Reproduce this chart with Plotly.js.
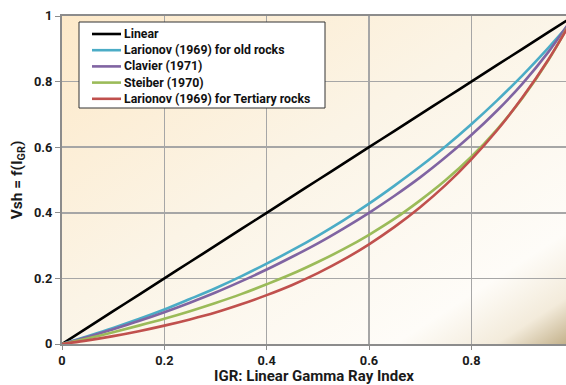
<!DOCTYPE html>
<html>
<head>
<meta charset="utf-8">
<script src="https://cdn.plot.ly/plotly-3.0.1.min.js"></script>
<style>html,body{margin:0;padding:0;background:#fff;}#chart{width:566px;height:385px;}</style>
</head>
<body>
<div id="chart"></div>
<script>
// IGR values (x)
const igr = [0,0.05,0.1,0.15,0.2,0.25,0.3,0.35,0.4,0.45,0.5,0.55,0.6,0.65,0.7,0.75,0.8,0.85,0.9,0.95,1.0];
// Vsh values
const linear     = [0,0.05,0.1,0.15,0.2,0.25,0.3,0.35,0.4,0.45,0.5,0.55,0.6,0.65,0.7,0.75,0.8,0.85,0.9,0.95,1.0];
const larOld     = [0,0.024,0.049,0.076,0.105,0.137,0.170,0.206,0.245,0.286,0.330,0.377,0.428,0.483,0.541,0.603,0.670,0.742,0.819,0.902,0.990];
const clavier    = [0,0.021,0.045,0.070,0.097,0.126,0.157,0.191,0.227,0.266,0.307,0.352,0.400,0.452,0.508,0.570,0.637,0.711,0.794,0.889,1.000];
const steiber    = [0,0.017,0.036,0.056,0.077,0.100,0.125,0.152,0.182,0.214,0.250,0.289,0.333,0.382,0.438,0.500,0.571,0.654,0.750,0.864,1.000];
const larTert    = [0,0.011,0.024,0.039,0.056,0.075,0.096,0.121,0.149,0.180,0.216,0.257,0.304,0.357,0.417,0.485,0.563,0.651,0.752,0.866,0.996];
const names  = ["Linear","Larionov (1969) for old rocks","Clavier (1971)","Steiber (1970)","Larionov (1969) for Tertiary rocks"];
const series = [linear, larOld, clavier, steiber, larTert];
const colors = ["#000000","#4bacc6","#8064a2","#9bbb59","#c0504d"];
const xTicks = [0,0.2,0.4,0.6,0.8];
const yTicks = [0,0.2,0.4,0.6,0.8,1];

const FONT = "Roboto, 'Liberation Sans', Arial, sans-serif";
const traces = series.map((s,i)=>({
  x: igr, y: s, type:'scatter', mode:'lines', name: names[i], showlegend:false,
  line:{color:colors[i], width:2.6, shape:'spline'}
}));

const svg = `<svg xmlns='http://www.w3.org/2000/svg' width='504' height='328' preserveAspectRatio='none'>
<defs><linearGradient id='g' x1='0' y1='0' x2='1' y2='1'>
<stop offset='0' stop-color='#fde9c9'/>
<stop offset='0.45' stop-color='#fbf4e6'/>
<stop offset='0.83' stop-color='#fefcf8'/>
<stop offset='0.93' stop-color='#f3ebdb'/>
<stop offset='1' stop-color='#c4b28c'/>
</linearGradient></defs>
<rect width='504' height='328' fill='url(#g)'/></svg>`;
const bg = 'data:image/svg+xml;charset=utf-8,' + encodeURIComponent(svg);

// manual legend (paper coordinates of the plot area: 504 x 328 px)
const PW = 504, PH = 328;
const px = v => v / PW, py = v => 1 - v / PH;   // pixel offsets inside plot area
const shapes = [{type:'rect', xref:'paper', yref:'paper',
  x0:px(17), x1:px(263), y0:py(92), y1:py(6),
  fillcolor:'#ffffff', line:{color:'#333333', width:1}, layer:'above'}];
const annotations = [];
names.forEach((n,i)=>{
  const yy = py(18 + i*16.2);
  shapes.push({type:'line', xref:'paper', yref:'paper', x0:px(30), x1:px(59), y0:yy, y1:yy,
    line:{color:colors[i], width:2.6}, layer:'above'});
  annotations.push({xref:'paper', yref:'paper', x:px(60), y:yy, xanchor:'left', yanchor:'middle',
    text:n, showarrow:false, font:{family:FONT, size:12.3, weight:'bold', color:'#111'}});
});

const layout = {
  width:566, height:385,
  margin:{l:62, r:0, t:16, b:41},
  paper_bgcolor:'#ffffff',
  plot_bgcolor:'rgba(0,0,0,0)',
  font:{family:FONT, size:11, color:'#1a1a1a'},
  showlegend:false,
  xaxis:{
    range:[0,0.985], tickvals:xTicks, ticktext:xTicks.map(v=>String(v)),
    showgrid:true, gridcolor:'#a6a6a6', gridwidth:1.5,
    showline:true, linecolor:'#8c8c8c', linewidth:2, mirror:true,
    ticks:'outside', ticklen:4, tickcolor:'#8c8c8c',
    tickfont:{family:FONT, size:12.8, weight:'bold', color:'#1a1a1a'},
    zeroline:false,
    title:{text:'IGR: Linear Gamma Ray Index', font:{family:FONT, size:15, weight:'bold', color:'#1a1a1a'}, standoff:8}
  },
  yaxis:{
    range:[0,1], tickvals:yTicks, ticktext:yTicks.map(v=>String(v)),
    showgrid:true, gridcolor:'#a6a6a6', gridwidth:1.5,
    showline:true, linecolor:'#8c8c8c', linewidth:2, mirror:true,
    ticks:'outside', ticklen:5, tickcolor:'#8c8c8c',
    tickfont:{family:FONT, size:12.8, weight:'bold', color:'#1a1a1a'},
    zeroline:false,
    title:{text:'Vsh = f(I<sub>GR</sub>)', font:{family:FONT, size:15.5, weight:'bold', color:'#1a1a1a'}, standoff:8}
  },
  shapes: shapes,
  annotations: annotations,
  images:[{source:bg, xref:'paper', yref:'paper', x:0, y:1, sizex:1, sizey:1, sizing:'stretch', layer:'below'}]
};
Plotly.newPlot('chart', traces, layout, {displayModeBar:false, staticPlot:true});
</script>
</body>
</html>
